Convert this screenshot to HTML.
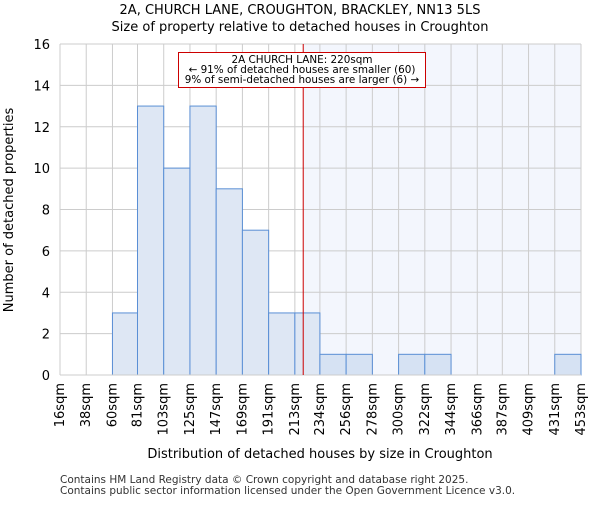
<!DOCTYPE html>
<html><head><meta charset="utf-8"><style>
body{margin:0;background:#fff;font-family:"Liberation Sans","DejaVu Sans",sans-serif}
</style></head><body>
<svg id="chart" width="600" height="500" xmlns="http://www.w3.org/2000/svg" font-family="DejaVu Sans, Liberation Sans, sans-serif">
<text x="300" y="14" text-anchor="middle" font-size="13">2A, CHURCH LANE, CROUGHTON, BRACKLEY, NN13 5LS</text>
<text x="300" y="31" text-anchor="middle" font-size="13">Size of property relative to detached houses in Croughton</text>
<g id="plot"></g>
<text x="320" y="458" text-anchor="middle" font-size="13">Distribution of detached houses by size in Croughton</text>
<text transform="translate(13,210) rotate(-90)" text-anchor="middle" font-size="13">Number of detached properties</text>
<text x="60" y="483" font-size="10.5" fill="#333">Contains HM Land Registry data © Crown copyright and database right 2025.</text>
<text x="60" y="494" font-size="10.5" fill="#333">Contains public sector information licensed under the Open Government Licence v3.0.</text>
</svg>
<script>
const binLabels=["16sqm","38sqm","60sqm","81sqm","103sqm","125sqm","147sqm","169sqm","191sqm","213sqm","234sqm","256sqm","278sqm","300sqm","322sqm","344sqm","366sqm","387sqm","409sqm","431sqm","453sqm"];
const binEdges=[16,38,60,81,103,125,147,169,191,213,234,256,278,300,322,344,366,387,409,431,453];
const counts=[0,0,3,13,10,13,9,7,3,3,1,1,0,1,1,0,0,0,0,1];
const yTicks=[0,2,4,6,8,10,12,14,16];
const propertySize=220;
const NS="http://www.w3.org/2000/svg";
const L=60,R=581,T=44,B=375;
const xMin=16,xMax=453,yMax=16;
const xs=v=>L+(v-xMin)/(xMax-xMin)*(R-L);
const ys=v=>B-v/yMax*(B-T);
const g=document.getElementById('plot');
function mk(tag,a){const e=document.createElementNS(NS,tag);for(const k in a)e.setAttribute(k,a[k]);g.appendChild(e);return e;}
const bg=mk('rect',{x:xs(propertySize),y:T,width:R-xs(propertySize),height:B-T,fill:'#f3f6fd'});


yTicks.forEach(t=>{const l=mk('line',{x1:L,x2:R,y1:ys(t),y2:ys(t),stroke:'#ccc','stroke-width':1});


const tx=mk('text',{x:L-10,y:ys(t)+5,'text-anchor':'end','font-size':13});tx.textContent=t;

});
binEdges.forEach((e,i)=>{const x=xs(e);const l=mk('line',{x1:x,x2:x,y1:T,y2:B,stroke:'#ccc','stroke-width':1});


const tx=mk('text',{transform:`translate(${x+4},${B+8}) rotate(-90)`,'text-anchor':'end','font-size':13});tx.textContent=binLabels[i];

});
counts.forEach((c,i)=>{if(!c)return;const x0=xs(binEdges[i]),x1=xs(binEdges[i+1]);
const r=mk('rect',{x:x0,y:ys(c),width:x1-x0,height:B-ys(c),fill:binEdges[i]>=propertySize?'#d6e2f3':'#dee7f4',stroke:'#5a8fd5','stroke-width':1});

});
const ax=mk('line',{x1:L,x2:R,y1:B,y2:B,stroke:'#ccc'});


const pl=mk('line',{x1:xs(propertySize),x2:xs(propertySize),y1:T,y2:B,stroke:'#cc0000','stroke-width':1});


const box=mk('rect',{x:178.5,y:52.5,width:247,height:35,fill:'#fff',stroke:'#cc0000'});


["2A CHURCH LANE: 220sqm","← 91% of detached houses are smaller (60)","9% of semi-detached houses are larger (6) →"].forEach((s,i)=>{
const t=mk('text',{x:302,y:63+i*10,'text-anchor':'middle','font-size':10.4});t.textContent=s;

});
</script>
</body></html>
